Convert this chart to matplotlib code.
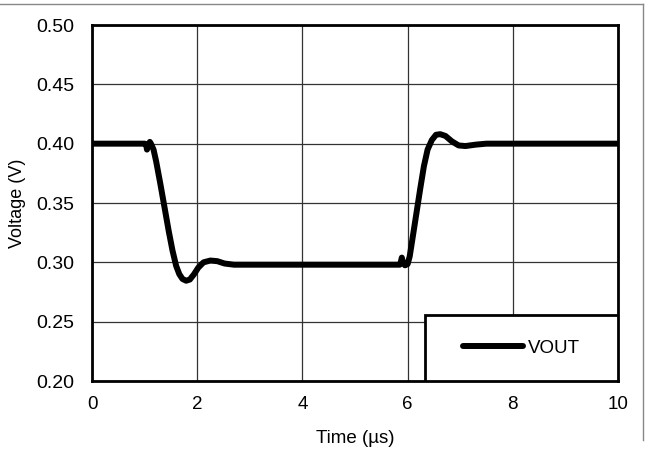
import matplotlib
matplotlib.use("Agg")
import matplotlib.pyplot as plt
from matplotlib.patches import Rectangle
from matplotlib.lines import Line2D

plt.rcParams['font.family'] = ['Liberation Sans', 'DejaVu Sans']

# VOUT transient
time_us = [0.0, 1.00, 1.03, 1.045, 1.07, 1.10, 1.12, 1.17, 1.22, 1.30, 1.38, 1.46,
           1.53, 1.60, 1.66, 1.72, 1.79, 1.86, 1.94, 2.02, 2.12, 2.25, 2.38, 2.52,
           2.70, 3.0, 4.0, 5.0, 5.85, 5.87, 5.89, 5.91, 5.95, 6.00, 6.04, 6.10, 6.17,
           6.24, 6.31, 6.38, 6.46, 6.54, 6.62, 6.72, 6.84, 6.97, 7.10, 7.30, 7.50,
           8.5, 10.0]
vout = [0.400, 0.400, 0.399, 0.395, 0.399, 0.4015, 0.400, 0.395, 0.385, 0.366, 0.346,
        0.326, 0.310, 0.297, 0.290, 0.286, 0.2845, 0.2855, 0.290, 0.2955, 0.300,
        0.3015, 0.301, 0.299, 0.298, 0.298, 0.298, 0.298, 0.298, 0.300, 0.304,
        0.300, 0.2975, 0.2985, 0.305, 0.322, 0.342, 0.362, 0.381, 0.395, 0.403,
        0.4075, 0.408, 0.4065, 0.402, 0.3985, 0.398, 0.3992, 0.400, 0.400, 0.400]

xticks = [0, 2, 4, 6, 8, 10]
yticks = [0.20, 0.25, 0.30, 0.35, 0.40, 0.45, 0.50]

fig = plt.figure(figsize=(6.52, 4.5), dpi=100)
ax = fig.add_axes([92/652, 1-381/450, 526/652, 356/450])

ax.plot(time_us, vout, color='black', lw=4.3, solid_capstyle='round',
        solid_joinstyle='round', label='VOUT', zorder=3)

ax.set_xlim(0, 10)
ax.set_ylim(0.2, 0.5)
ax.set_xticks(xticks)
ax.set_yticks(yticks)
ax.set_yticklabels(['%.2f' % v for v in yticks])
ax.grid(True, color='#333333', lw=0.9)
ax.set_axisbelow(True)
ax.tick_params(length=0)
ax.tick_params(axis='x', labelsize=13.5, pad=11)
ax.tick_params(axis='y', labelsize=14, pad=13)
for s in ax.spines.values():
    s.set_linewidth(2)
ax.set_xlabel('Time (µs)', fontsize=13.5, labelpad=12)
ax.set_ylabel('Voltage (V)', fontsize=13, labelpad=7)

# legend box in lower right corner
box = Rectangle((0.633, 0.0), 0.367, 0.185, transform=ax.transAxes,
                facecolor='white', edgecolor='black', lw=2, zorder=4)
ax.add_patch(box)
leg = ax.legend(loc='center', bbox_to_anchor=(0.8165, 0.0925), frameon=False,
                fontsize=13.5, handlelength=3.2, handletextpad=0.3)
leg.set_zorder(5)

# thin frame pieces around the figure
fig.add_artist(Line2D([0, 643/652], [1-4/450, 1-4/450], color='#888888', lw=1))
fig.add_artist(Line2D([643/652, 643/652], [1-4/450, 1-440/450], color='#888888', lw=1))

fig.savefig('out.png', dpi=100)
